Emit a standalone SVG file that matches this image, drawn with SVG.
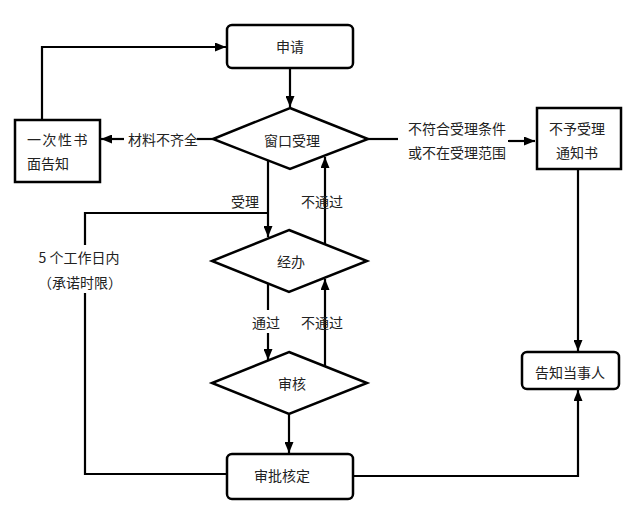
<svg xmlns="http://www.w3.org/2000/svg" width="640" height="528" viewBox="0 0 640 528">
<style>
.box{fill:#fff;stroke:#000;stroke-width:2.5}
.c{fill:none;stroke:#000;stroke-width:2.2}
.t{font-family:"Noto Sans CJK SC","Liberation Serif",serif;font-size:14px;fill:#222;dominant-baseline:central}
.m{text-anchor:middle}
</style>
<defs>
<marker id="ah" markerUnits="userSpaceOnUse" markerWidth="11" markerHeight="9" refX="11" refY="4.5" orient="auto">
<path d="M0,0 L11,4.5 L0,9 z" fill="#000"/>
</marker>
</defs>
<rect width="640" height="528" fill="#fff"/>
<g id="connectors">
<path class="c" d="M290,69 V107" marker-end="url(#ah)"/>
<path class="c" d="M213,139 H197"/>
<path class="c" d="M124,139 H101" marker-end="url(#ah)"/>
<path class="c" d="M42,120 V47 H226" marker-end="url(#ah)"/>
<path class="c" d="M368,139 H398"/>
<path class="c" d="M508,141 H535" marker-end="url(#ah)"/>
<path class="c" d="M578,169 V351" marker-end="url(#ah)"/>
<path class="c" d="M268,161 V237" marker-end="url(#ah)"/>
<path class="c" d="M268,213 H85 V245"/>
<path class="c" d="M85,293 V474 H227"/>
<path class="c" d="M325,244 V157" marker-end="url(#ah)"/>
<path class="c" d="M268,283 V310"/>
<path class="c" d="M268,333 V360" marker-end="url(#ah)"/>
<path class="c" d="M325,366 V279" marker-end="url(#ah)"/>
<path class="c" d="M289,414 V453" marker-end="url(#ah)"/>
<path class="c" d="M353,476 H578 V390" marker-end="url(#ah)"/>
<text class="t" x="128" y="139">材料不齐全</text>
<text class="t" x="408" y="128">不符合受理条件</text>
<text class="t" x="408" y="152">或不在受理范围</text>
<text class="t m" x="245" y="201">受理</text>
<text class="t m" x="322" y="201">不通过</text>
<text class="t m" x="266" y="322">通过</text>
<text class="t m" x="322" y="322">不通过</text>
<text class="t m" x="79" y="257">5 个工作日内</text>
<text class="t m" x="80" y="282">（承诺时限）</text>
</g>
<g id="shenqing">
<rect class="box" x="227" y="25" width="126" height="43" rx="5"/>
<text class="t m" x="290" y="46">申请</text>
</g>
<g id="chuangkou">
<polygon class="box" points="290,108 368,139 290,169 213,139"/>
<text class="t m" x="292" y="140">窗口受理</text>
</g>
<g id="yicixing">
<rect class="box" x="15" y="120" width="85" height="62"/>
<text class="t" x="27" y="139" letter-spacing="1.5">一次性书</text>
<text class="t" x="27" y="163">面告知</text>
</g>
<g id="buyu">
<rect class="box" x="537" y="108" width="84" height="61"/>
<text class="t m" x="577" y="128">不予受理</text>
<text class="t m" x="577" y="152">通知书</text>
</g>
<g id="jingban">
<polygon class="box" points="289,230 367,261 289,292 212,261"/>
<text class="t m" x="291" y="261">经办</text>
</g>
<g id="shenhe">
<polygon class="box" points="289,352 367,383 289,414 212,383"/>
<text class="t m" x="292" y="383">审核</text>
</g>
<g id="shenpi">
<rect class="box" x="227" y="454" width="126" height="45" rx="5"/>
<text class="t m" x="282" y="475">审批核定</text>
</g>
<g id="gaozhi">
<rect class="box" x="522" y="352" width="97" height="37" rx="5"/>
<text class="t m" x="570" y="372">告知当事人</text>
</g>
</svg>
